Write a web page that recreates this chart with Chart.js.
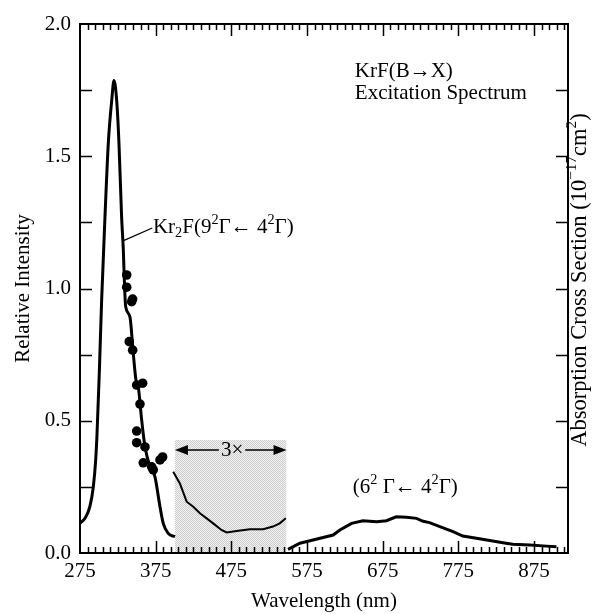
<!DOCTYPE html>
<html>
<head>
<meta charset="utf-8">
<script src="https://cdn.jsdelivr.net/npm/chart.js@4.4.0/dist/chart.umd.min.js"></script>
<style>
  html, body { margin: 0; padding: 0; background: #fff; }
  #wrap { width: 595px; height: 614px; }
</style>
</head>
<body>
<div id="wrap"><canvas id="spectre"></canvas></div>
<script>
// Bande Kr2F (9²Γ ← 4²Γ) : longueur d'onde (nm) / intensité relative
const bandeKr2fNm = [275, 281.6, 288, 292.6, 295.7, 297.5, 300.5, 303.6, 308, 312.4, 316.9, 319.9, 323.5, 326.5, 330, 332.2, 334, 335.4, 341, 345.4, 349, 352, 356.5, 360.9, 367.5, 374, 380.7, 385, 391.6, 400.5];
const bandeKr2fInt = [0.113, 0.131, 0.175, 0.25, 0.35, 0.45, 0.68, 0.956, 1.27, 1.549, 1.71, 1.786, 1.71, 1.549, 1.27, 1.15, 1.0, 0.931, 0.893, 0.755, 0.654, 0.629, 0.503, 0.402, 0.326, 0.289, 0.175, 0.112, 0.074, 0.062];

// Points mesurés (section efficace d'absorption)
const pointsNm = [336.7, 336.7, 343.3, 344.5, 340.1, 344.6, 349.9, 357.8, 354.3, 349.9, 349.9, 360.9, 358.6, 369.7, 371.8, 380.7, 384.2];
const pointsInt = [1.051, 1.005, 0.950, 0.960, 0.799, 0.767, 0.635, 0.642, 0.563, 0.461, 0.417, 0.401, 0.341, 0.326, 0.314, 0.352, 0.363];

// Zone agrandie 3x
const zoomNm = [398.2, 407, 416, 424.7, 433.5, 442.4, 451, 462, 468.8, 482, 499.6, 517, 530, 539, 547];
const zoomInt = [0.307, 0.263, 0.194, 0.175, 0.15, 0.131, 0.112, 0.087, 0.078, 0.083, 0.09, 0.09, 0.1, 0.112, 0.131];
const zoomCadreNm = [400.5, 548];
const zoomCadreHaut = 0.427;

// Bande (6²Γ ← 4²Γ)
const bande6Nm = [550, 565.6, 583, 609.6, 618.5, 634, 649, 667, 680, 693, 706.6, 719.8, 728.5, 737, 750.6, 768, 781, 799, 816.6, 834, 847, 869.5, 891.5, 904.7];
const bande6Int = [0.014, 0.037, 0.049, 0.068, 0.087, 0.112, 0.122, 0.118, 0.122, 0.137, 0.135, 0.131, 0.12, 0.115, 0.1, 0.081, 0.064, 0.056, 0.047, 0.039, 0.033, 0.03, 0.026, 0.024];

// Graduations
const xTicks = [275, 375, 475, 575, 675, 775, 875];
const yTicks = [0, 0.5, 1.0, 1.5, 2.0];

const POLICE = '"Liberation Serif", "Times New Roman", "DejaVu Serif", serif';
const police = { family: POLICE, size: 21 };

const paires = (xs, ys) => xs.map((v, i) => ({ x: v, y: ys[i] }));

// trame grise pour la zone 3x
function trame() {
  const c = document.createElement('canvas');
  c.width = 2; c.height = 2;
  const g = c.getContext('2d');
  g.fillStyle = '#f2f2f2'; g.fillRect(0, 0, 2, 2);
  g.fillStyle = '#cdcdcd'; g.fillRect(0, 0, 1, 1); g.fillRect(1, 1, 1, 1);
  return g.createPattern(c, 'repeat');
}

// Texte avec exposants / indices : [texte, 'sup' | 'sub' | undefined]
function largeurRiche(ctx, parts, taille) {
  let w = 0;
  parts.forEach(([t, mode]) => {
    ctx.font = `${mode ? taille * 0.68 : taille}px ${POLICE}`;
    w += ctx.measureText(t).width;
  });
  return w;
}
function texteRiche(ctx, parts, x, y, taille) {
  let cx = x;
  parts.forEach(([t, mode]) => {
    ctx.font = `${mode ? taille * 0.68 : taille}px ${POLICE}`;
    const dy = mode === 'sup' ? -taille * 0.36 : mode === 'sub' ? taille * 0.24 : 0;
    ctx.fillText(t, cx, y + dy);
    cx += ctx.measureText(t).width;
  });
}

// Cadre, graduations intérieures et annotations
const cadre = {
  id: 'cadre',
  afterDatasetsDraw(chart) {
    const { ctx, chartArea: a, scales: { x, y } } = chart;
    ctx.save();
    ctx.strokeStyle = '#000';
    ctx.fillStyle = '#000';
    ctx.lineWidth = 2;
    ctx.strokeRect(a.left, a.top, a.right - a.left, a.bottom - a.top);

    ctx.lineWidth = 1.5;
    ctx.beginPath();
    for (let v = 285; v < x.max; v += 10) {
      const px = Math.round(x.getPixelForValue(v)) + 0.5;
      const len = (v - 275) % 100 === 0 ? 12 : 6;
      ctx.moveTo(px, a.bottom); ctx.lineTo(px, a.bottom - len);
      ctx.moveTo(px, a.top); ctx.lineTo(px, a.top + len);
    }
    for (let v = 0.25; v < 2; v += 0.25) {
      const py = Math.round(y.getPixelForValue(v)) + 0.5;
      ctx.moveTo(a.left, py); ctx.lineTo(a.left + 12, py);
      ctx.moveTo(a.right, py); ctx.lineTo(a.right - 12, py);
    }
    ctx.stroke();

    // trait de rappel vers l'étiquette Kr2F
    ctx.lineWidth = 1.2;
    ctx.beginPath();
    ctx.moveTo(x.getPixelForValue(331.8), y.getPixelForValue(1.18));
    ctx.lineTo(x.getPixelForValue(370.5), y.getPixelForValue(1.229));
    ctx.stroke();

    ctx.textBaseline = 'middle';
    ctx.textAlign = 'left';
    texteRiche(ctx, [['Kr'], ['2', 'sub'], ['F(9'], ['2', 'sup'], ['Γ← 4'], ['2', 'sup'], ['Γ)']],
      x.getPixelForValue(371.4), y.getPixelForValue(1.229), 21);
    texteRiche(ctx, [['KrF(B→X)']], x.getPixelForValue(638.3), y.getPixelForValue(1.819), 21);
    texteRiche(ctx, [['Excitation Spectrum']], x.getPixelForValue(638.3), y.getPixelForValue(1.739), 21);
    texteRiche(ctx, [['(6'], ['2', 'sup'], [' Γ← 4'], ['2', 'sup'], ['Γ)']],
      x.getPixelForValue(635.6), y.getPixelForValue(0.246), 21);

    // flèche double « 3× »
    const ya = y.getPixelForValue(0.389);
    const x1 = x.getPixelForValue(zoomCadreNm[0]);
    const x2 = x.getPixelForValue(zoomCadreNm[1]);
    const xc = x.getPixelForValue(476);
    ctx.font = `21px ${POLICE}`;
    const wt = ctx.measureText('3×').width;
    ctx.textAlign = 'center';
    ctx.fillText('3×', xc, ya);
    ctx.lineWidth = 1.5;
    ctx.beginPath();
    ctx.moveTo(x1 + 10, ya); ctx.lineTo(xc - wt / 2 - 2, ya);
    ctx.moveTo(xc + wt / 2 + 2, ya); ctx.lineTo(x2 - 10, ya);
    ctx.stroke();
    ctx.beginPath();
    ctx.moveTo(x1, ya); ctx.lineTo(x1 + 13, ya - 5); ctx.lineTo(x1 + 13, ya + 5); ctx.closePath();
    ctx.moveTo(x2, ya); ctx.lineTo(x2 - 13, ya - 5); ctx.lineTo(x2 - 13, ya + 5); ctx.closePath();
    ctx.fill();

    // titre de l'axe de droite
    const titreDroit = [['Absorption Cross Section (10'], ['−17', 'sup'], ['cm'], ['2', 'sup'], [')']];
    const w = largeurRiche(ctx, titreDroit, 22.5);
    ctx.translate(580, 280);
    ctx.rotate(-Math.PI / 2);
    ctx.textAlign = 'left';
    texteRiche(ctx, titreDroit, -w / 2, 0, 22.5);
    ctx.restore();
  }
};

new Chart(document.getElementById('spectre'), {
  type: 'line',
  data: {
    datasets: [
      {
        data: paires(pointsNm, pointsInt),
        showLine: false,
        pointRadius: 4.8,
        pointBackgroundColor: '#000',
        pointBorderWidth: 0,
        order: 0
      },
      {
        data: paires(bandeKr2fNm, bandeKr2fInt),
        borderColor: '#000',
        borderWidth: 3,
        pointRadius: 0,
        cubicInterpolationMode: 'monotone',
        order: 1
      },
      {
        data: paires(zoomNm, zoomInt),
        borderColor: '#000',
        borderWidth: 2,
        pointRadius: 0,
        tension: 0,
        order: 2
      },
      {
        data: paires(bande6Nm, bande6Int),
        borderColor: '#000',
        borderWidth: 3,
        pointRadius: 0,
        tension: 0,
        order: 3
      },
      {
        // fond grisé de la zone agrandie
        data: zoomCadreNm.map(v => ({ x: v, y: zoomCadreHaut })),
        borderWidth: 0,
        borderColor: 'rgba(0,0,0,0)',
        backgroundColor: trame(),
        fill: 'origin',
        pointRadius: 0,
        order: 10
      }
    ]
  },
  options: {
    responsive: true,
    maintainAspectRatio: false,
    animation: false,
    layout: { padding: { top: 24, right: 27, left: 0, bottom: 0 } },
    plugins: { legend: { display: false }, tooltip: { enabled: false } },
    scales: {
      x: {
        type: 'linear',
        min: 275,
        max: 920,
        afterBuildTicks: s => { s.ticks = xTicks.map(v => ({ value: v })); },
        afterFit: s => { s.height = 61; },
        grid: { display: false, drawTicks: false },
        border: { display: false },
        ticks: { font: police, color: '#000', padding: 6, maxRotation: 0, autoSkip: false },
        title: { display: true, text: 'Wavelength (nm)', font: police, color: '#000', padding: { top: 0, bottom: 0 } }
      },
      y: {
        min: 0,
        max: 2,
        afterBuildTicks: s => { s.ticks = yTicks.map(v => ({ value: v })); },
        afterFit: s => { s.width = 80; },
        grid: { display: false, drawTicks: false },
        border: { display: false },
        ticks: { font: police, color: '#000', padding: 9, callback: v => v.toFixed(1) },
        title: { display: true, text: 'Relative Intensity', font: police, color: '#000', padding: { top: 11, bottom: 0 } }
      }
    }
  },
  plugins: [cadre]
});
</script>
</body>
</html>
